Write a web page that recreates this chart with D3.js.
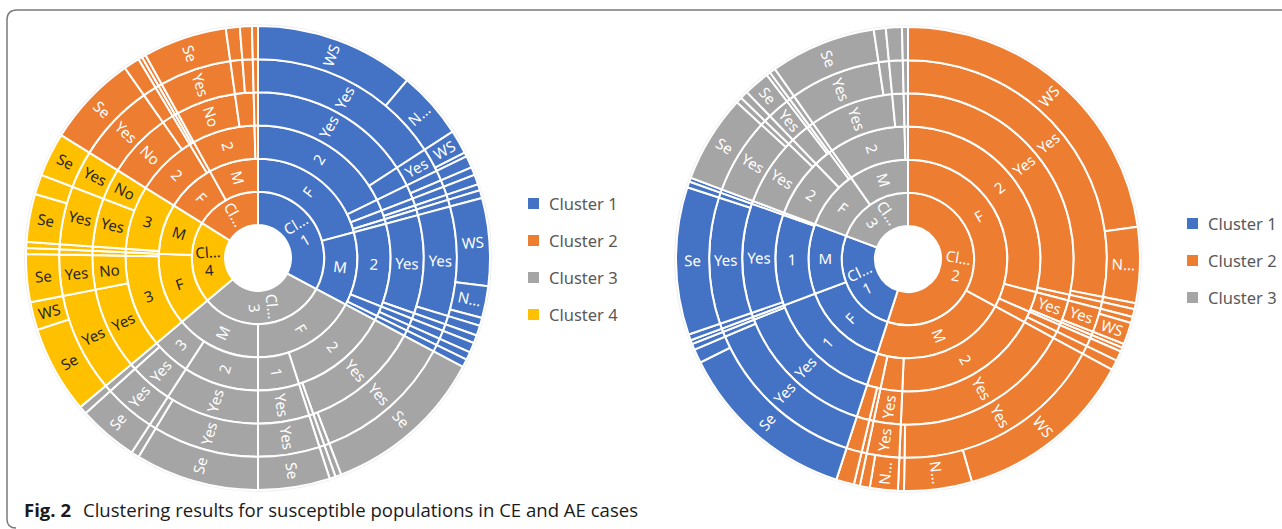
<!DOCTYPE html>
<html>
<head>
<meta charset="utf-8">
<script src="https://cdn.jsdelivr.net/npm/d3@7"></script>
<style>
  body { margin: 0; background: #fff; }
  svg { display: block; font-family: "Noto Sans", sans-serif; }
</style>
</head>
<body>
<svg id="chart" width="1282" height="529"></svg>
<script>
const clusterNames = ["Cluster 1", "Cluster 2", "Cluster 3", "Cluster 4"];
const clusterColors = ["#4472C4", "#ED7D31", "#A5A5A5", "#FFC000"];

// CE cases (left sunburst): cluster / gender / number / yes-no / yes-no / outcome
const cePaths = [
  "Cluster 1/F/2/Yes/Yes/WS", "Cluster 1/F/2/Yes/Yes/N…", "Cluster 1/F/2/No/Yes/WS", "Cluster 1/F/2/No/Yes/Se",
  "Cluster 1/F/1/Yes/Yes/WS", "Cluster 1/F/1/Yes/No/Se", "Cluster 1/F/3/Yes/Yes/WS", "Cluster 1/F/3/No/Yes/Se",
  "Cluster 1/F/4/Yes/Yes/Se",
  "Cluster 1/M/2/Yes/Yes/WS", "Cluster 1/M/2/Yes/Yes/N…", "Cluster 1/M/2/Yes/Yes/Se", "Cluster 1/M/2/Yes/No/WS",
  "Cluster 1/M/2/No/Yes/WS", "Cluster 1/M/1/Yes/Yes/WS", "Cluster 1/M/1/No/Yes/Se", "Cluster 1/M/3/Yes/Yes/WS",
  "Cluster 3/F/2/Yes/Yes/Se", "Cluster 3/F/2/Yes/No/Se", "Cluster 3/F/2/No/Yes/Se", "Cluster 3/F/1/Yes/Yes/Se",
  "Cluster 3/M/2/Yes/Yes/Se", "Cluster 3/M/2/Yes/No/Se", "Cluster 3/M/3/Yes/Yes/Se", "Cluster 3/M/3/No/Yes/Se",
  "Cluster 4/F/3/Yes/Yes/Se", "Cluster 4/F/3/Yes/Yes/WS", "Cluster 4/F/3/No/Yes/Se", "Cluster 4/F/2/Yes/Yes/Se",
  "Cluster 4/M/2/Yes/Yes/Se", "Cluster 4/M/3/Yes/Yes/Se", "Cluster 4/M/3/Yes/Yes/WS", "Cluster 4/M/3/No/Yes/Se",
  "Cluster 2/F/2/No/Yes/Se", "Cluster 2/F/2/Yes/Yes/Se", "Cluster 2/F/3/Yes/Yes/Se", "Cluster 2/F/3/No/Yes/Se",
  "Cluster 2/M/2/No/Yes/Se", "Cluster 2/M/2/Yes/Yes/Se", "Cluster 2/M/2/Yes/No/Se", "Cluster 2/M/1/Yes/Yes/Se"
];
const ceValues = [
  40, 17, 6, 1,
  3, 2, 2.5, 1.5,
  2,
  22, 8, 2, 2.5,
  2, 2.5, 2, 2,
  41, 1.5, 1.5, 18,
  31, 2, 15, 2,
  22, 7, 12, 1.5,
  1.5, 12, 5, 11,
  23, 4, 1, 1,
  21, 3.5, 3, 1.5
];

// AE cases (right sunburst)
const aePaths = [
  "Cluster 2/F/2/Yes/Yes/WS", "Cluster 2/F/2/Yes/Yes/N…", "Cluster 2/F/2/Yes/No/Se", "Cluster 2/F/2/No/Yes/Se",
  "Cluster 2/F/1/Yes/Yes/Se", "Cluster 2/F/1/Yes/Yes/WS", "Cluster 2/F/1/Yes/No/Se", "Cluster 2/F/1/No/Yes/Se",
  "Cluster 2/F/3/Yes/Yes/Se", "Cluster 2/F/3/No/Yes/Se",
  "Cluster 2/M/2/Yes/Yes/WS", "Cluster 2/M/2/Yes/Yes/N…", "Cluster 2/M/2/Yes/No/Se", "Cluster 2/M/1/Yes/Yes/N…",
  "Cluster 2/M/1/Yes/Yes/Se", "Cluster 2/M/3/No/Yes/Se", "Cluster 2/M/3/Yes/Yes/Se",
  "Cluster 1/F/1/Yes/Yes/Se", "Cluster 1/F/1/Yes/Yes/WS", "Cluster 1/F/1/Yes/No/Se", "Cluster 1/F/1/No/Yes/Se",
  "Cluster 1/M/1/No/Yes/Se", "Cluster 1/M/1/Yes/Yes/Se", "Cluster 1/M/1/Yes/No/Se", "Cluster 1/M/2/Yes/Yes/Se",
  "Cluster 3/F/2/Yes/Yes/Se", "Cluster 3/F/2/Yes/No/Se", "Cluster 3/F/2/No/Yes/Se", "Cluster 3/F/1/Yes/Yes/Se",
  "Cluster 3/F/1/No/Yes/Se", "Cluster 3/F/3/Yes/Yes/Se",
  "Cluster 3/M/2/Yes/Yes/Se", "Cluster 3/M/2/Yes/No/Se", "Cluster 3/M/2/No/Yes/Se", "Cluster 3/M/1/Yes/Yes/Se"
];
const aeValues = [
  82, 19, 1.5, 2,
  1.5, 5.5, 1, 1,
  2.5, 2.5,
  45.5, 17, 1.5, 7,
  2.5, 1.5, 4.5,
  45.5, 3.5, 1.5, 1,
  1.5, 37, 1.5, 1,
  22, 1.5, 2, 6.5,
  1, 1.5,
  26.5, 3, 4, 1.5
];

const ceLegend = ["Cluster 1", "Cluster 2", "Cluster 3", "Cluster 4"];
const aeLegend = ["Cluster 1", "Cluster 2", "Cluster 3"];

const innerR = 33;
const outerR = 232;
const svg = d3.select("#chart");
const colorScale = d3.scaleOrdinal().domain(clusterNames).range(clusterColors);

// group consecutive rows with the same label (like the spreadsheet sunburst)
function buildTree(paths, values) {
  const root = { name: "root", children: [] };
  paths.forEach((p, i) => {
    let node = root;
    const parts = p.split("/");
    parts.forEach((name, lvl) => {
      const kids = node.children;
      if (lvl === parts.length - 1) {
        kids.push({ name, value: values[i] });
        return;
      }
      let last = kids[kids.length - 1];
      if (!last || last.name !== name || !last.children) {
        last = { name, children: [] };
        kids.push(last);
      }
      node = last;
    });
  });
  return root;
}

function fitText(el, str, max) {
  el.text(str);
  if (el.node().getComputedTextLength() <= max) return;
  for (let n = str.length - 1; n > 0; n--) {
    el.text(str.slice(0, n) + "…");
    if (el.node().getComputedTextLength() <= max) return;
  }
}

function drawSunburst(cx, cy, paths, values) {
  const root = d3.hierarchy(buildTree(paths, values)).sum(d => d.value || 0);
  d3.partition().size([2 * Math.PI, 7])(root);

  const radius = d3.scaleLinear().domain([1, 7]).range([innerR, outerR]);
  const ringW = radius(2) - radius(1);

  const arc = d3.arc()
    .startAngle(d => d.x0)
    .endAngle(d => d.x1)
    .innerRadius(d => radius(d.y0))
    .outerRadius(d => radius(d.y1));

  const g = svg.append("g").attr("transform", `translate(${cx},${cy})`);

  g.append("circle")
    .attr("r", outerR + 1)
    .attr("fill", "none")
    .attr("stroke", "#ececec")
    .attr("stroke-width", 1.5);

  const nodes = root.descendants().filter(d => d.depth > 0);
  const clusterOf = d => d.ancestors().find(a => a.depth === 1).data.name;

  g.selectAll("path")
    .data(nodes)
    .join("path")
    .attr("d", arc)
    .attr("fill", d => colorScale(clusterOf(d)))
    .attr("stroke", "#fff")
    .attr("stroke-width", 2);

  // labels
  const labelled = nodes.filter(d => (d.x1 - d.x0) * radius(d.y0 + 0.5) >= 19.5);
  const labels = g.selectAll("text")
    .data(labelled)
    .join("text")
    .attr("transform", d => {
      const a = (d.x0 + d.x1) / 2 * 180 / Math.PI;
      const r = radius(d.y0 + 0.5);
      return `rotate(${a - 90}) translate(${r},0) rotate(${a < 180 ? 0 : 180})`;
    })
    .attr("text-anchor", "middle")
    .attr("font-size", 15)
    .attr("fill", d => clusterOf(d) === "Cluster 4" ? "#262626" : "#fff");

  labels.each(function(d) {
    const t = d3.select(this);
    let lines = d.depth === 1 ? d.data.name.split(" ") : [d.data.name];
    if (d.depth === 1 && (d.x1 - d.x0) * innerR < 36) lines = lines.slice(0, 1);
    lines.forEach((line, i) => {
      const span = t.append("tspan")
        .attr("x", 0)
        .attr("dy", i === 0 ? `${0.35 - (lines.length - 1) * 0.6}em` : "1.2em");
      fitText(span, line, ringW - 6);
    });
  });
}

function drawLegend(x, y, items) {
  const rowGap = 37;
  const lg = svg.append("g").attr("transform", `translate(${x},${y})`);
  const rows = lg.selectAll("g")
    .data(items)
    .join("g")
    .attr("transform", (d, i) => `translate(0,${i * rowGap})`);
  rows.append("rect")
    .attr("width", 11)
    .attr("height", 11)
    .attr("fill", d => colorScale(d));
  rows.append("text")
    .attr("x", 21)
    .attr("y", 6)
    .attr("dy", "0.35em")
    .attr("font-size", 16.5)
    .attr("fill", "#595959")
    .text(d => d);
}

// frame
svg.append("path")
  .attr("d", "M1282,10 H17 Q7,10 7,20 V519 Q7,528 16,528")
  .attr("fill", "none")
  .attr("stroke", "#7a7a7a")
  .attr("stroke-width", 1.5);

drawSunburst(258, 258, cePaths, ceValues);
drawSunburst(908, 259, aePaths, aeValues);
drawLegend(528, 198, ceLegend);
drawLegend(1187, 218, aeLegend);

// caption
svg.append("text")
  .attr("x", 24)
  .attr("y", 517)
  .attr("font-family", "Open Sans, sans-serif")
  .attr("font-weight", "bold")
  .attr("font-size", 18)
  .attr("fill", "#1a1a1a")
  .attr("textLength", 47)
  .attr("lengthAdjust", "spacingAndGlyphs")
  .text("Fig. 2");
svg.append("text")
  .attr("x", 83)
  .attr("y", 517)
  .attr("font-family", "Open Sans, sans-serif")
  .attr("font-size", 18)
  .attr("fill", "#1a1a1a")
  .attr("textLength", 555)
  .attr("lengthAdjust", "spacingAndGlyphs")
  .text("Clustering results for susceptible populations in CE and AE cases");
</script>
</body>
</html>
